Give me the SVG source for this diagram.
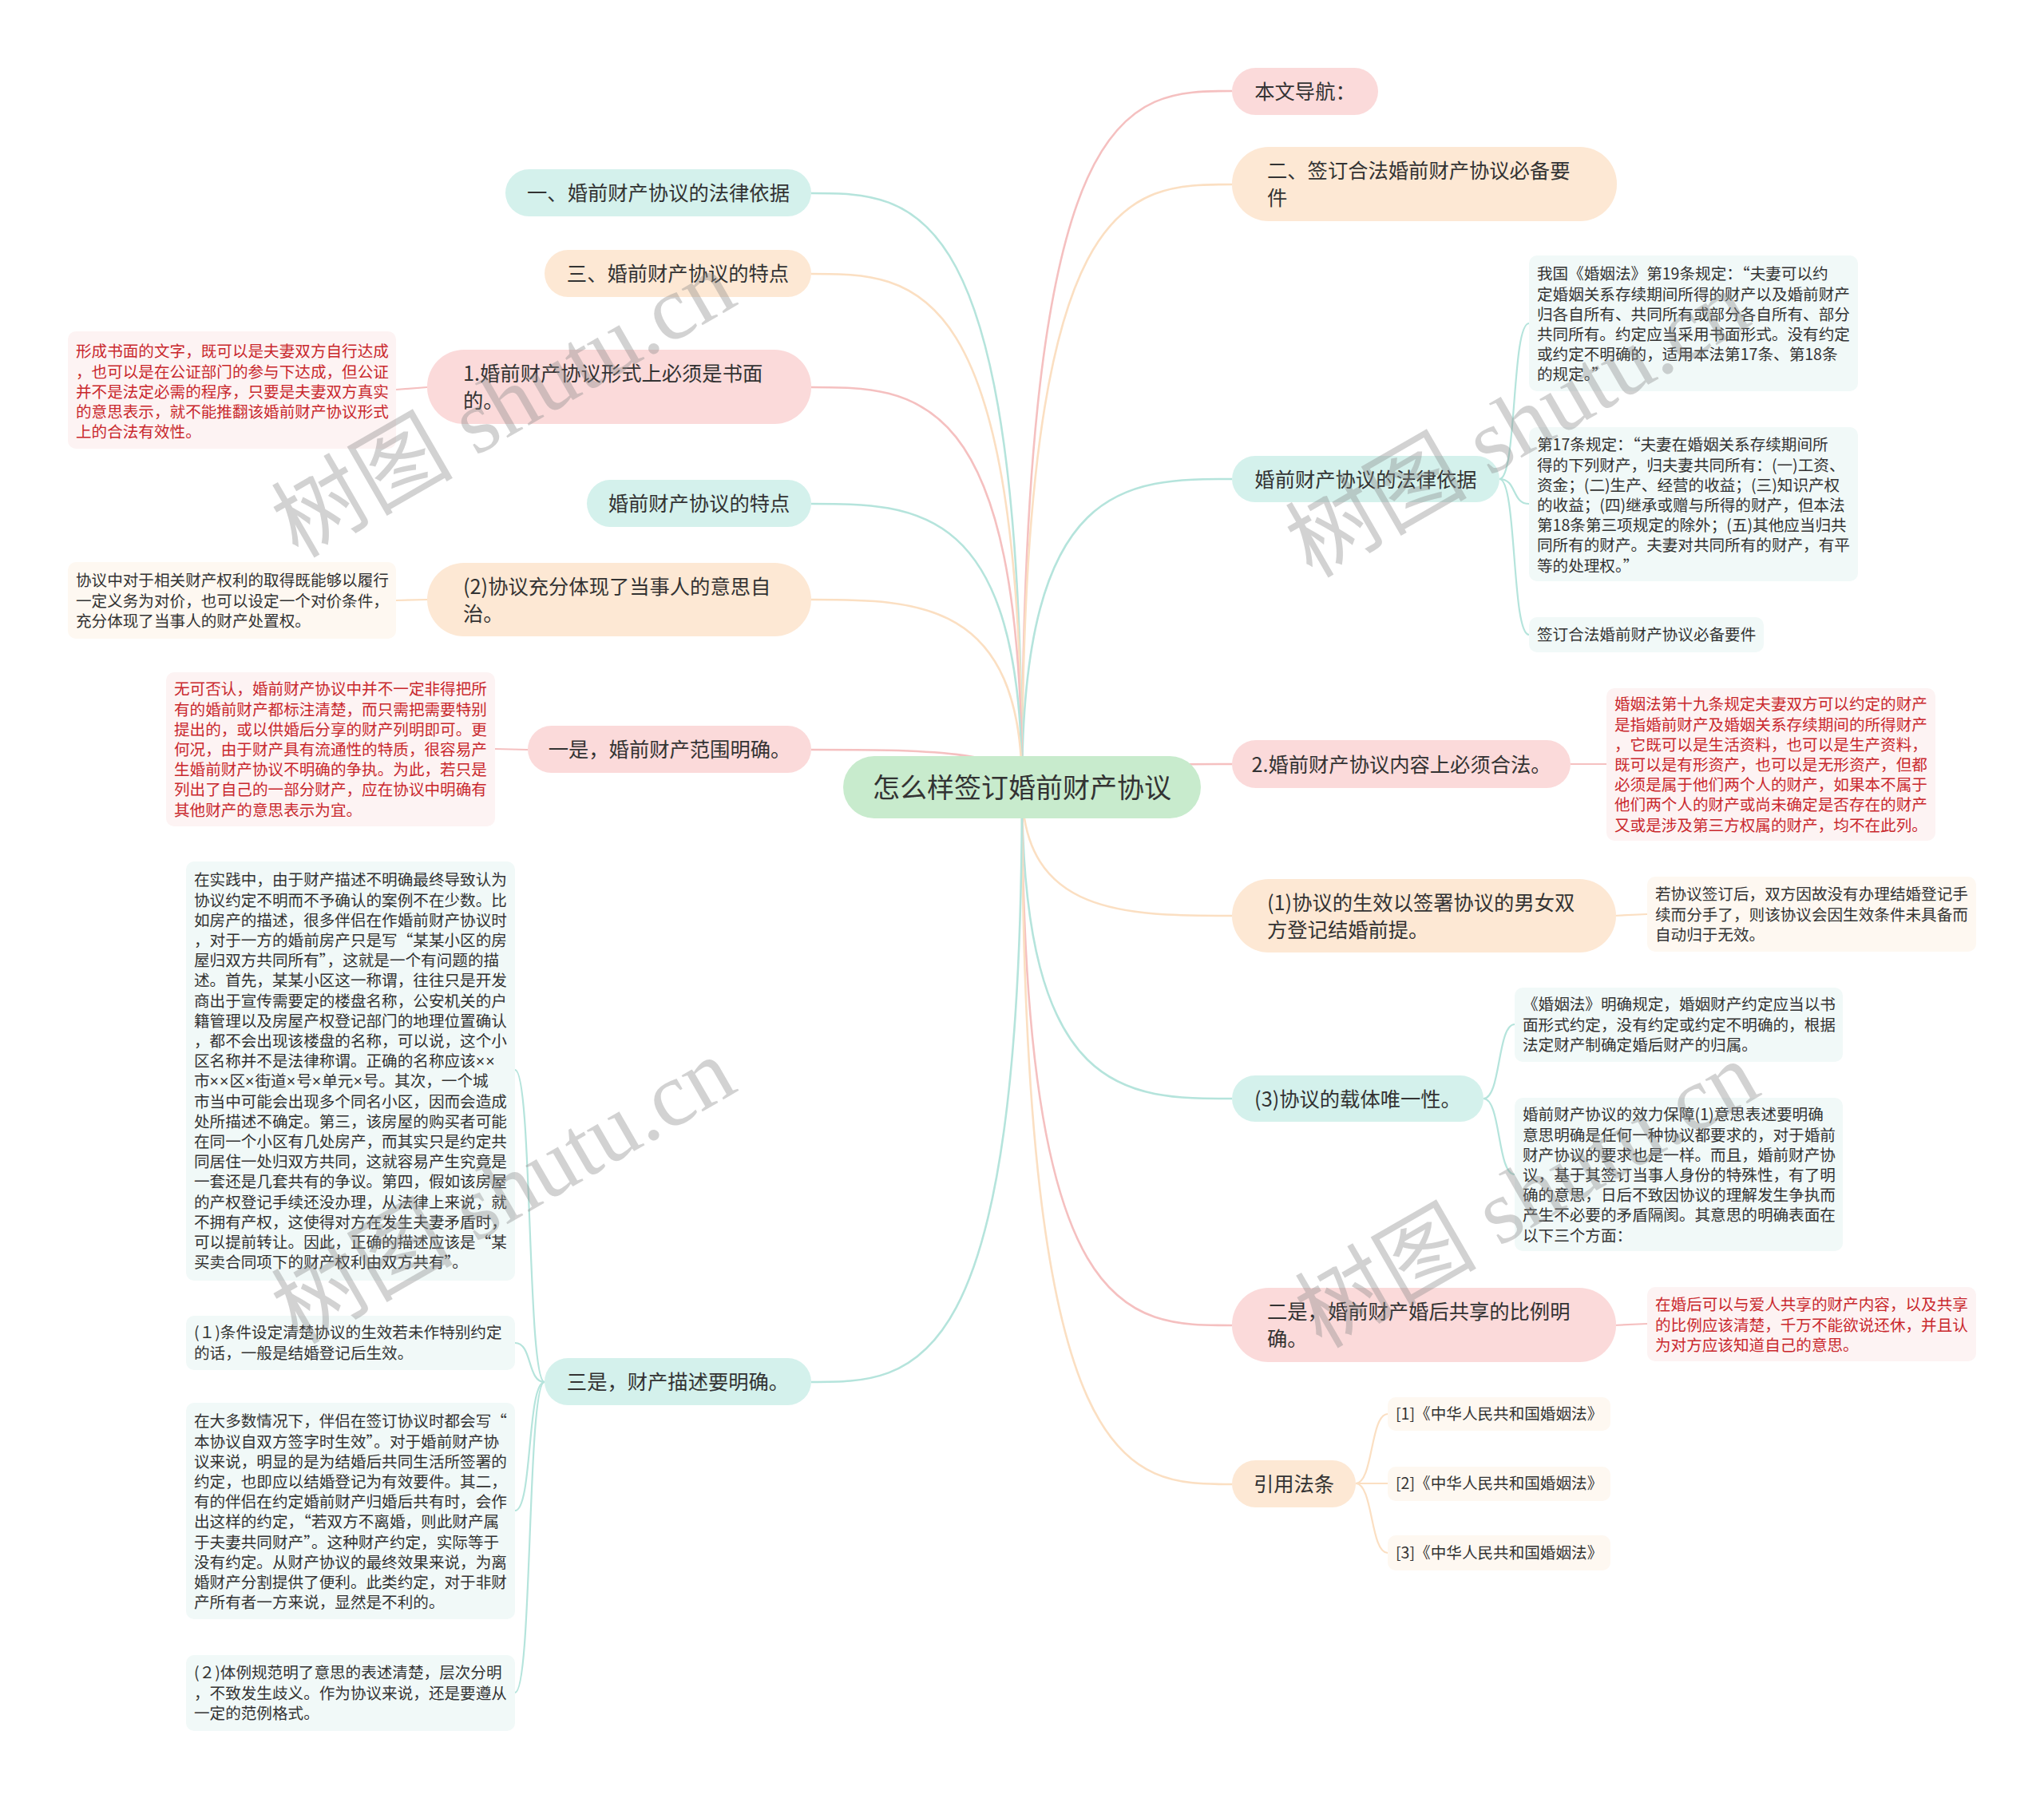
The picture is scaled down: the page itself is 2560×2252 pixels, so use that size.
<svg xmlns="http://www.w3.org/2000/svg" width="2560" height="2252" viewBox="0 0 2560 2252">
<style>
text{font-family:"Noto Sans CJK SC","Noto Sans CJK JP",sans-serif;fill:#333}
.m{font-size:25.3px}
.r{font-size:34px}
.l{font-size:19.6px}
.red{fill:#c9282d}
.x{font-family:"Liberation Sans",sans-serif;letter-spacing:1px}
.c{fill:none;stroke-width:2.6}
.cl{fill:none;stroke-width:2.2}
.pk{stroke:#f5c0c0}.pc{stroke:#fbdfc2}.tl{stroke:#b5e4dc}
.npk{fill:#fbdada}.npc{fill:#fde8d4}.ntl{fill:#d4f1ec}
.lpk{fill:#fdf3f3}.lpc{fill:#fef8f1}.ltl{fill:#f1f9f8}
.wm{font-family:"Liberation Serif","Noto Sans CJK SC",serif;font-size:114px;fill:#8a8a8a;fill-opacity:0.38}
</style>
<rect width="2560" height="2252" fill="#ffffff"/>
<g id="connectors">
<path class="c pk" d="M1280 986 C1280 114 1411 114 1543 114"/>
<path class="c pc" d="M1280 986 C1280 231 1411 231 1543 231"/>
<path class="c tl" d="M1280 986 C1280 600 1411 600 1543 600"/>
<path class="c pk" d="M1280 986 C1280 957 1411 957 1543 957"/>
<path class="c pc" d="M1280 986 C1280 1147 1411 1147 1543 1147"/>
<path class="c tl" d="M1280 986 C1280 1376 1411 1376 1543 1376"/>
<path class="c pk" d="M1280 986 C1280 1660 1411 1660 1543 1660"/>
<path class="c pc" d="M1280 986 C1280 1859 1411 1859 1543 1859"/>
<path class="c tl" d="M1280 986 C1280 242 1148 242 1016 242"/>
<path class="c pc" d="M1280 986 C1280 343 1148 343 1016 343"/>
<path class="c pk" d="M1280 986 C1280 485 1148 485 1016 485"/>
<path class="c tl" d="M1280 986 C1280 631 1148 631 1016 631"/>
<path class="c pc" d="M1280 986 C1280 751 1148 751 1016 751"/>
<path class="c pk" d="M1280 986 C1280 939 1148 939 1016 939"/>
<path class="c tl" d="M1280 986 C1280 1731 1148 1731 1016 1731"/>
<path class="cl pk" d="M535 485 L496 488"/>
<path class="cl pc" d="M535 751 L496 752"/>
<path class="cl pk" d="M661 939 L620 938"/>
<path class="cl pk" d="M1967 957 L2012 957"/>
<path class="cl pc" d="M2021 1147 L2063 1145"/>
<path class="cl pk" d="M2021 1660 L2063 1658"/>
<path class="cl tl" d="M682 1731 C660 1731 667 1340 645 1340"/>
<path class="cl tl" d="M682 1731 C660 1731 667 1682 645 1682"/>
<path class="cl tl" d="M682 1731 C660 1731 667 1892 645 1892"/>
<path class="cl tl" d="M682 1731 C660 1731 667 2120 645 2120"/>
<path class="cl tl" d="M1878 600 C1900 600 1893 405 1915 405"/>
<path class="cl tl" d="M1878 600 C1900 600 1893 631 1915 631"/>
<path class="cl tl" d="M1878 600 C1900 600 1893 795 1915 795"/>
<path class="cl tl" d="M1858 1376 C1880 1376 1875 1283 1897 1283"/>
<path class="cl tl" d="M1858 1376 C1880 1376 1875 1471 1897 1471"/>
<path class="cl pc" d="M1698 1858 C1720 1858 1716 1771 1738 1771"/>
<path class="cl pc" d="M1698 1858 C1720 1858 1716 1858 1738 1858"/>
<path class="cl pc" d="M1698 1858 C1720 1858 1716 1945 1738 1945"/>
</g>
<g id="root">
<rect x="1056" y="947" width="448" height="78" rx="39" fill="#c8ebcd"/>
<text class="r" x="1280" y="999" text-anchor="middle">怎么样签订婚前财产协议</text>
</g>
<g id="r1"><rect class="npk" x="1543" y="85" width="183" height="59" rx="29.5"/><text class="m" x="1634.5" y="124" text-anchor="middle">本文导航：</text></g>
<g id="r2"><rect class="npc" x="1543" y="184" width="482" height="93" rx="46"/><text class="m"><tspan x="1587" y="223">二、签订合法婚前财产协议必备要</tspan><tspan x="1587" y="257">件</tspan></text></g>
<g id="r3"><rect class="ntl" x="1543" y="571" width="335" height="58" rx="29"/><text class="m" x="1710.5" y="609.5" text-anchor="middle">婚前财产协议的法律依据</text></g>
<g id="r4"><rect class="npk" x="1543" y="927" width="424" height="60" rx="30"/><text class="m" x="1755" y="966.5" text-anchor="middle">2.婚前财产协议内容上必须合法。</text></g>
<g id="r5"><rect class="npc" x="1543" y="1101" width="481" height="92" rx="46"/><text class="m"><tspan x="1587" y="1139.5">(1)协议的生效以签署协议的男女双</tspan><tspan x="1587" y="1173.5">方登记结婚前提。</tspan></text></g>
<g id="r6"><rect class="ntl" x="1543" y="1347" width="315" height="58" rx="29"/><text class="m" x="1700.5" y="1385.5" text-anchor="middle">(3)协议的载体唯一性。</text></g>
<g id="r7"><rect class="npk" x="1543" y="1613" width="481" height="93" rx="46"/><text class="m"><tspan x="1587" y="1652">二是，婚前财产婚后共享的比例明</tspan><tspan x="1587" y="1686">确。</tspan></text></g>
<g id="r8"><rect class="npc" x="1543" y="1829" width="155" height="59" rx="29.5"/><text class="m" x="1620.5" y="1868" text-anchor="middle">引用法条</text></g>
<g id="l1"><rect class="ntl" x="633" y="212" width="383" height="59" rx="29.5"/><text class="m" x="824.5" y="251" text-anchor="middle">一、婚前财产协议的法律依据</text></g>
<g id="l2"><rect class="npc" x="682" y="313" width="334" height="59" rx="29.5"/><text class="m" x="849" y="352" text-anchor="middle">三、婚前财产协议的特点</text></g>
<g id="l3"><rect class="npk" x="535" y="438" width="481" height="93" rx="46"/><text class="m"><tspan x="580" y="477">1.婚前财产协议形式上必须是书面</tspan><tspan x="580" y="511">的。</tspan></text></g>
<g id="l4"><rect class="ntl" x="735" y="601" width="281" height="59" rx="29.5"/><text class="m" x="875.5" y="640" text-anchor="middle">婚前财产协议的特点</text></g>
<g id="l5"><rect class="npc" x="535" y="705" width="481" height="92" rx="46"/><text class="m"><tspan x="580" y="743.5">(2)协议充分体现了当事人的意思自</tspan><tspan x="580" y="777.5">治。</tspan></text></g>
<g id="l6"><rect class="npk" x="661" y="909" width="355" height="59" rx="29.5"/><text class="m" x="838.5" y="948" text-anchor="middle">一是，婚前财产范围明确。</text></g>
<g id="l7"><rect class="ntl" x="682" y="1701" width="334" height="59" rx="29.5"/><text class="m" x="849" y="1740" text-anchor="middle">三是，财产描述要明确。</text></g>
<g id="ll3"><rect class="lpk" x="85" y="415" width="411" height="147" rx="10"/><text class="l red"><tspan x="95" y="447.4">形成书面的文字，既可以是夫妻双方自行达成</tspan><tspan x="95" y="472.6">，也可以是在公证部门的参与下达成，但公证</tspan><tspan x="95" y="497.8">并不是法定必需的程序，只要是夫妻双方真实</tspan><tspan x="95" y="523">的意思表示，就不能推翻该婚前财产协议形式</tspan><tspan x="95" y="548.2">上的合法有效性。</tspan></text></g>
<g id="ll5"><rect class="lpc" x="85" y="704" width="411" height="96" rx="10"/><text class="l"><tspan x="95" y="734.4">协议中对于相关财产权利的取得既能够以履行</tspan><tspan x="95" y="759.6">一定义务为对价，也可以设定一个对价条件，</tspan><tspan x="95" y="784.8">充分体现了当事人的财产处置权。</tspan></text></g>
<g id="ll6"><rect class="lpk" x="208" y="842" width="412" height="193" rx="10"/><text class="l red"><tspan x="218" y="870.4">无可否认，婚前财产协议中并不一定非得把所</tspan><tspan x="218" y="895.6">有的婚前财产都标注清楚，而只需把需要特别</tspan><tspan x="218" y="920.8">提出的，或以供婚后分享的财产列明即可。更</tspan><tspan x="218" y="946">何况，由于财产具有流通性的特质，很容易产</tspan><tspan x="218" y="971.2">生婚前财产协议不明确的争执。为此，若只是</tspan><tspan x="218" y="996.4">列出了自己的一部分财产，应在协议中明确有</tspan><tspan x="218" y="1021.6">其他财产的意思表示为宜。</tspan></text></g>
<g id="ll7a"><rect class="ltl" x="233" y="1079" width="412" height="525" rx="10"/><text class="l"><tspan x="243" y="1109.4">在实践中，由于财产描述不明确最终导致认为</tspan><tspan x="243" y="1134.6">协议约定不明而不予确认的案例不在少数。比</tspan><tspan x="243" y="1159.8">如房产的描述，很多伴侣在作婚前财产协议时</tspan><tspan x="243" y="1185">，对于一方的婚前房产只是写“某某小区的房</tspan><tspan x="243" y="1210.2">屋归双方共同所有”，这就是一个有问题的描</tspan><tspan x="243" y="1235.4">述。首先，某某小区这一称谓，往往只是开发</tspan><tspan x="243" y="1260.6">商出于宣传需要定的楼盘名称，公安机关的户</tspan><tspan x="243" y="1285.8">籍管理以及房屋产权登记部门的地理位置确认</tspan><tspan x="243" y="1311">，都不会出现该楼盘的名称，可以说，这个小</tspan><tspan x="243" y="1336.2">区名称并不是法律称谓。正确的名称应该<tspan class="x">××</tspan></tspan><tspan x="243" y="1361.4">市<tspan class="x">××</tspan>区<tspan class="x">×</tspan>街道<tspan class="x">×</tspan>号<tspan class="x">×</tspan>单元<tspan class="x">×</tspan>号。其次，一个城</tspan><tspan x="243" y="1386.6">市当中可能会出现多个同名小区，因而会造成</tspan><tspan x="243" y="1411.8">处所描述不确定。第三，该房屋的购买者可能</tspan><tspan x="243" y="1437">在同一个小区有几处房产，而其实只是约定共</tspan><tspan x="243" y="1462.2">同居住一处归双方共同，这就容易产生究竟是</tspan><tspan x="243" y="1487.4">一套还是几套共有的争议。第四，假如该房屋</tspan><tspan x="243" y="1512.6">的产权登记手续还没办理，从法律上来说，就</tspan><tspan x="243" y="1537.8">不拥有产权，这使得对方在发生夫妻矛盾时，</tspan><tspan x="243" y="1563">可以提前转让。因此，正确的描述应该是“某</tspan><tspan x="243" y="1588.2">买卖合同项下的财产权利由双方共有”。</tspan></text></g>
<g id="ll7b"><rect class="ltl" x="233" y="1648" width="412" height="68" rx="10"/><text class="l"><tspan x="243" y="1676.4">(１)条件设定清楚协议的生效若未作特别约定</tspan><tspan x="243" y="1701.6">的话，一般是结婚登记后生效。</tspan></text></g>
<g id="ll7c"><rect class="ltl" x="233" y="1757" width="412" height="271" rx="10"/><text class="l"><tspan x="243" y="1787.4">在大多数情况下，伴侣在签订协议时都会写“</tspan><tspan x="243" y="1812.6">本协议自双方签字时生效”。对于婚前财产协</tspan><tspan x="243" y="1837.8">议来说，明显的是为结婚后共同生活所签署的</tspan><tspan x="243" y="1863">约定，也即应以结婚登记为有效要件。其二，</tspan><tspan x="243" y="1888.2">有的伴侣在约定婚前财产归婚后共有时，会作</tspan><tspan x="243" y="1913.4">出这样的约定，“若双方不离婚，则此财产属</tspan><tspan x="243" y="1938.6">于夫妻共同财产”。这种财产约定，实际等于</tspan><tspan x="243" y="1963.8">没有约定。从财产协议的最终效果来说，为离</tspan><tspan x="243" y="1989">婚财产分割提供了便利。此类约定，对于非财</tspan><tspan x="243" y="2014.2">产所有者一方来说，显然是不利的。</tspan></text></g>
<g id="ll7d"><rect class="ltl" x="233" y="2073" width="412" height="95" rx="10"/><text class="l"><tspan x="243" y="2102.4">(２)体例规范明了意思的表述清楚，层次分明</tspan><tspan x="243" y="2127.6">，不致发生歧义。作为协议来说，还是要遵从</tspan><tspan x="243" y="2152.8">一定的范例格式。</tspan></text></g>
<g id="rl3a"><rect class="ltl" x="1915" y="320" width="412" height="170" rx="10"/><text class="l"><tspan x="1925" y="350.4">我国《婚姻法》第19条规定：“夫妻可以约</tspan><tspan x="1925" y="375.6">定婚姻关系存续期间所得的财产以及婚前财产</tspan><tspan x="1925" y="400.8">归各自所有、共同所有或部分各自所有、部分</tspan><tspan x="1925" y="426">共同所有。约定应当采用书面形式。没有约定</tspan><tspan x="1925" y="451.2">或约定不明确的，适用本法第17条、第18条</tspan><tspan x="1925" y="476.4">的规定。”</tspan></text></g>
<g id="rl3b"><rect class="ltl" x="1915" y="535" width="412" height="193" rx="10"/><text class="l"><tspan x="1925" y="564.4">第17条规定：“夫妻在婚姻关系存续期间所</tspan><tspan x="1925" y="589.6">得的下列财产，归夫妻共同所有：(一)工资、</tspan><tspan x="1925" y="614.8">资金；(二)生产、经营的收益；(三)知识产权</tspan><tspan x="1925" y="640">的收益；(四)继承或赠与所得的财产，但本法</tspan><tspan x="1925" y="665.2">第18条第三项规定的除外；(五)其他应当归共</tspan><tspan x="1925" y="690.4">同所有的财产。夫妻对共同所有的财产，有平</tspan><tspan x="1925" y="715.6">等的处理权。”</tspan></text></g>
<g id="rl3c"><rect class="ltl" x="1915" y="773" width="294" height="44" rx="10"/><text class="l" x="1925" y="802.4">签订合法婚前财产协议必备要件</text></g>
<g id="rl4"><rect class="lpk" x="2012" y="862" width="412" height="191" rx="10"/><text class="l red"><tspan x="2022" y="889.4">婚姻法第十九条规定夫妻双方可以约定的财产</tspan><tspan x="2022" y="914.6">是指婚前财产及婚姻关系存续期间的所得财产</tspan><tspan x="2022" y="939.8">，它既可以是生活资料，也可以是生产资料，</tspan><tspan x="2022" y="965">既可以是有形资产，也可以是无形资产，但都</tspan><tspan x="2022" y="990.2">必须是属于他们两个人的财产，如果本不属于</tspan><tspan x="2022" y="1015.4">他们两个人的财产或尚未确定是否存在的财产</tspan><tspan x="2022" y="1040.6">又或是涉及第三方权属的财产，均不在此列。</tspan></text></g>
<g id="rl5"><rect class="lpc" x="2063" y="1098" width="412" height="94" rx="10"/><text class="l"><tspan x="2073" y="1127.4">若协议签订后，双方因故没有办理结婚登记手</tspan><tspan x="2073" y="1152.6">续而分手了，则该协议会因生效条件未具备而</tspan><tspan x="2073" y="1177.8">自动归于无效。</tspan></text></g>
<g id="rl6a"><rect class="ltl" x="1897" y="1237" width="411" height="93" rx="10"/><text class="l"><tspan x="1907" y="1265.4">《婚姻法》明确规定，婚姻财产约定应当以书</tspan><tspan x="1907" y="1290.6">面形式约定，没有约定或约定不明确的，根据</tspan><tspan x="1907" y="1315.8">法定财产制确定婚后财产的归属。</tspan></text></g>
<g id="rl6b"><rect class="ltl" x="1897" y="1375" width="411" height="192" rx="10"/><text class="l"><tspan x="1907" y="1403.4">婚前财产协议的效力保障(1)意思表述要明确</tspan><tspan x="1907" y="1428.6">意思明确是任何一种协议都要求的，对于婚前</tspan><tspan x="1907" y="1453.8">财产协议的要求也是一样。而且，婚前财产协</tspan><tspan x="1907" y="1479">议，基于其签订当事人身份的特殊性，有了明</tspan><tspan x="1907" y="1504.2">确的意思，日后不致因协议的理解发生争执而</tspan><tspan x="1907" y="1529.4">产生不必要的矛盾隔阂。其意思的明确表面在</tspan><tspan x="1907" y="1554.6">以下三个方面：</tspan></text></g>
<g id="rl7"><rect class="lpk" x="2063" y="1612" width="412" height="93" rx="10"/><text class="l red"><tspan x="2073" y="1641.4">在婚后可以与爱人共享的财产内容，以及共享</tspan><tspan x="2073" y="1666.6">的比例应该清楚，千万不能欲说还休，并且认</tspan><tspan x="2073" y="1691.8">为对方应该知道自己的意思。</tspan></text></g>
<g id="rl8a"><rect class="lpc" x="1738" y="1750" width="279" height="42" rx="10"/><text class="l" x="1748" y="1778.4">[1]《中华人民共和国婚姻法》</text></g>
<g id="rl8b"><rect class="lpc" x="1738" y="1837" width="279" height="43" rx="10"/><text class="l" x="1748" y="1865.4">[2]《中华人民共和国婚姻法》</text></g>
<g id="rl8c"><rect class="lpc" x="1738" y="1923" width="279" height="44" rx="10"/><text class="l" x="1748" y="1952.4">[3]《中华人民共和国婚姻法》</text></g>
<g id="watermarks">
<text class="wm" transform="translate(650 540) rotate(-30)" text-anchor="middle">树图 shutu.cn</text>
<text class="wm" transform="translate(650 1525) rotate(-30)" text-anchor="middle">树图 shutu.cn</text>
<text class="wm" transform="translate(1920 565) rotate(-30)" text-anchor="middle">树图 shutu.cn</text>
<text class="wm" transform="translate(1932 1530) rotate(-30)" text-anchor="middle">树图 shutu.cn</text>
</g>
</svg>
